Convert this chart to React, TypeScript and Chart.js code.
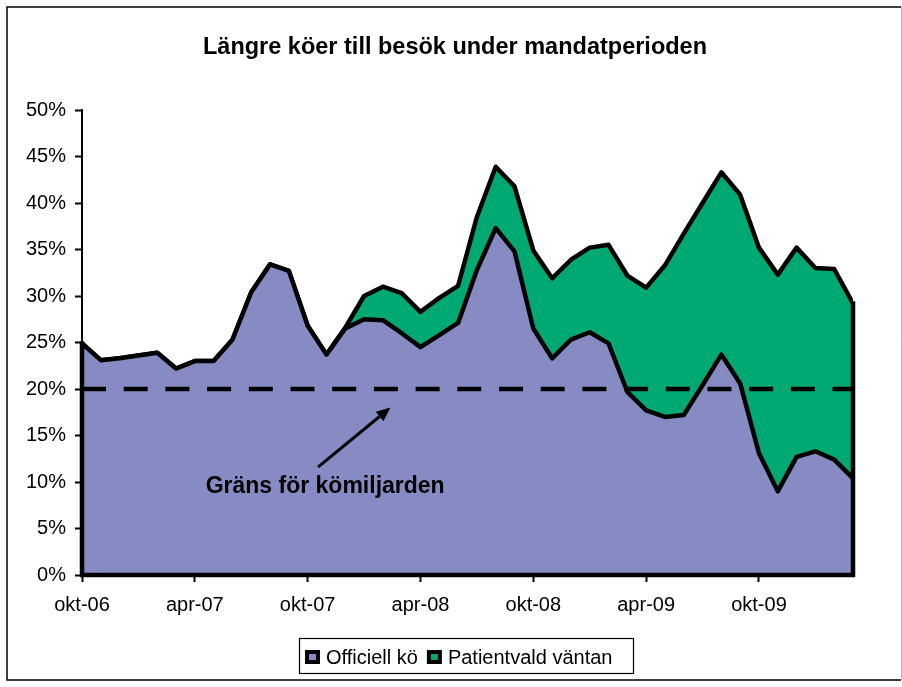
import React, { useEffect, useRef } from "react";
import { Chart, registerables } from "chart.js";

Chart.register(...registerables);

const TITLE = "Längre köer till besök under mandatperioden";
const SERIES_NAMES = ["Officiell kö", "Patientvald väntan"];
const MONTHS = [
  "okt-06", "nov-06", "dec-06", "jan-07", "feb-07", "mar-07",
  "apr-07", "maj-07", "jun-07", "jul-07", "aug-07", "sep-07",
  "okt-07", "nov-07", "dec-07", "jan-08", "feb-08", "mar-08",
  "apr-08", "maj-08", "jun-08", "jul-08", "aug-08", "sep-08",
  "okt-08", "nov-08", "dec-08", "jan-09", "feb-09", "mar-09",
  "apr-09", "maj-09", "jun-09", "jul-09", "aug-09", "sep-09",
  "okt-09", "nov-09", "dec-09", "jan-10", "feb-10", "mar-10",
];
const OFFICIELL = [
  24.9, 23.1, 23.3, 23.6, 23.9, 22.2, 23.0, 23.0, 25.3, 30.4, 33.4, 32.7,
  26.8, 23.7, 26.5, 27.5, 27.4, 26.0, 24.5, 25.8, 27.1, 32.8, 37.3, 34.8,
  26.5, 23.3, 25.3, 26.1, 24.9, 19.7, 17.7, 17.0, 17.2, 20.4, 23.7, 20.6,
  13.1, 9.0, 12.7, 13.3, 12.4, 10.4,
];
const PATIENTVALD = [
  0, 0, 0, 0, 0, 0, 0, 0, 0, 0, 0, 0,
  0, 0, 0.1, 2.5, 3.6, 4.3, 3.8, 4.0, 4.0, 5.7, 6.6, 7.0,
  8.4, 8.6, 8.6, 9.1, 10.6, 12.5, 13.2, 16.3, 19.5, 19.6, 19.6, 20.3,
  22.1, 23.3, 22.5, 19.7, 20.5, 18.8,
];
const Y_MIN = 0;
const Y_MAX = 50;
const Y_STEP = 5;
const X_STEP = 6;
const THRESHOLD = 20;
const ANNOTATION_TEXT = "Gräns för kömiljarden";
const ANNOTATION_TEXT_POS = { x: 12.93, y: 8.8 };
const ARROW_FROM = { x: 12.55, y: 11.6 };
const ARROW_TO = { x: 16.4, y: 18.0 };

const PURPLE = "rgb(135,139,196)";
const GREEN = "rgb(0,168,115)";
const FONT = "'Liberation Sans', Arial, sans-serif";

const decorPlugin = {
  id: "decor",
  beforeDraw(chart: any) {
    const ctx = chart.ctx;
    ctx.save();
    ctx.fillStyle = "#fff";
    ctx.fillRect(0, 0, chart.width, chart.height);
    ctx.restore();
  },
  afterDatasetsDraw(chart: any) {
    const ctx = chart.ctx;
    const xs = chart.scales.x;
    const ys = chart.scales.y;
    const n = OFFICIELL.length;
    const x0 = xs.getPixelForValue(0);
    const xN = xs.getPixelForValue(n - 1);
    const yZero = ys.getPixelForValue(0);
    ctx.save();
    ctx.strokeStyle = "#000";
    ctx.lineWidth = 4.5;
    ctx.lineCap = "square";
    ctx.beginPath();
    ctx.moveTo(x0, ys.getPixelForValue(OFFICIELL[0]));
    ctx.lineTo(x0, yZero);
    ctx.lineTo(xN, yZero);
    ctx.lineTo(xN, ys.getPixelForValue(OFFICIELL[n - 1] + PATIENTVALD[n - 1]));
    ctx.stroke();
    const yt = ys.getPixelForValue(THRESHOLD);
    ctx.lineCap = "butt";
    ctx.lineWidth = 4.5;
    ctx.setLineDash([24, 17.7]);
    ctx.beginPath();
    ctx.moveTo(x0, yt);
    ctx.lineTo(xN, yt);
    ctx.stroke();
    ctx.setLineDash([]);
    const ax1 = xs.getPixelForValue(ARROW_FROM.x);
    const ay1 = ys.getPixelForValue(ARROW_FROM.y);
    const ax2 = xs.getPixelForValue(ARROW_TO.x);
    const ay2 = ys.getPixelForValue(ARROW_TO.y);
    const ang = Math.atan2(ay2 - ay1, ax2 - ax1);
    const headLen = 14;
    const headW = 6;
    const bx = ax2 - headLen * Math.cos(ang);
    const by = ay2 - headLen * Math.sin(ang);
    ctx.lineWidth = 3;
    ctx.beginPath();
    ctx.moveTo(ax1, ay1);
    ctx.lineTo(bx, by);
    ctx.stroke();
    ctx.fillStyle = "#000";
    ctx.beginPath();
    ctx.moveTo(ax2, ay2);
    ctx.lineTo(bx + headW * Math.sin(ang), by - headW * Math.cos(ang));
    ctx.lineTo(bx - headW * Math.sin(ang), by + headW * Math.cos(ang));
    ctx.closePath();
    ctx.fill();
    ctx.font = `bold 23px ${FONT}`;
    ctx.textAlign = "center";
    ctx.textBaseline = "alphabetic";
    ctx.fillText(
      ANNOTATION_TEXT,
      xs.getPixelForValue(ANNOTATION_TEXT_POS.x),
      ys.getPixelForValue(ANNOTATION_TEXT_POS.y)
    );
    ctx.restore();
  },
  afterDraw(chart: any) {
    const ctx = chart.ctx;
    ctx.save();
    ctx.strokeStyle = "#000";
    ctx.lineWidth = 1.5;
    ctx.beginPath();
    ctx.moveTo(901, 7);
    ctx.lineTo(7, 7);
    ctx.lineTo(7, 680);
    ctx.lineTo(901, 680);
    ctx.stroke();
    ctx.strokeStyle = "#bbb";
    ctx.lineWidth = 1;
    ctx.beginPath();
    ctx.moveTo(901.5, 7);
    ctx.lineTo(901.5, 680);
    ctx.stroke();
    ctx.fillStyle = "#000";
    ctx.font = `bold 23.5px ${FONT}`;
    ctx.textAlign = "center";
    ctx.textBaseline = "alphabetic";
    ctx.fillText(TITLE, 455, 54);
    const colors = [PURPLE, GREEN];
    ctx.font = `20px ${FONT}`;
    ctx.textAlign = "left";
    const boxL = 299, boxT = 638, boxH = 35, boxW = 334;
    let x = boxL + 6;
    const items: any[] = [];
    SERIES_NAMES.forEach((name, i) => {
      const w = ctx.measureText(name).width;
      items.push({ x, name, color: colors[i] });
      x += 15 + 6 + w + 9;
    });
    ctx.strokeStyle = "#000";
    ctx.lineWidth = 1.2;
    ctx.strokeRect(boxL + 0.5, boxT + 0.5, boxW, boxH);
    items.forEach((it) => {
      ctx.fillStyle = "#000";
      ctx.fillRect(it.x, 650, 15, 14);
      ctx.fillStyle = it.color;
      ctx.fillRect(it.x + 4, 654, 7, 6);
      ctx.fillStyle = "#000";
      ctx.fillText(it.name, it.x + 21, 664);
    });
    ctx.restore();
  },
};

export default function App() {
  const ref = useRef<HTMLCanvasElement>(null);
  useEffect(() => {
    if (!ref.current) return;
    const chart = new Chart(ref.current, {
      type: "line",
      data: {
        datasets: [
          {
            label: SERIES_NAMES[0],
            data: OFFICIELL.map((v, i) => ({ x: i, y: v })),
            backgroundColor: PURPLE,
            borderColor: "#000",
            borderWidth: 4.5,
            fill: "origin",
            pointRadius: 0,
            tension: 0,
            borderJoinStyle: "round",
          },
          {
            label: SERIES_NAMES[1],
            data: PATIENTVALD.map((v, i) => ({ x: i, y: v })),
            backgroundColor: GREEN,
            borderColor: "#000",
            borderWidth: 4.5,
            fill: "-1",
            pointRadius: 0,
            tension: 0,
            borderJoinStyle: "round",
          },
        ],
      },
      options: {
        responsive: false,
        animation: false,
        devicePixelRatio: 1,
        layout: { padding: { left: 0, right: 49, top: 110, bottom: 0 } },
        plugins: {
          legend: { display: false },
          title: { display: false },
          tooltip: { enabled: false },
        },
        scales: {
          x: {
            type: "linear",
            min: 0,
            max: MONTHS.length - 1,
            afterFit: (s: any) => { s.height = 112; },
            ticks: {
              stepSize: X_STEP,
              includeBounds: false,
              autoSkip: false,
              maxRotation: 0,
              padding: 11,
              color: "#000",
              font: { family: FONT, size: 20 },
              callback: (v: any) => MONTHS[v] ?? "",
            },
            grid: {
              drawOnChartArea: false,
              drawTicks: true,
              tickLength: 7,
              tickColor: "#000",
              tickWidth: 2,
            },
            border: { display: true, color: "#000", width: 2 },
          },
          y: {
            stacked: true,
            min: Y_MIN,
            max: Y_MAX,
            afterFit: (s: any) => { s.width = 82; },
            ticks: {
              stepSize: Y_STEP,
              padding: 9,
              color: "#000",
              font: { family: FONT, size: 20 },
              callback: (v: any) => `${v}%`,
            },
            grid: {
              drawOnChartArea: false,
              drawTicks: true,
              tickLength: 7,
              tickColor: "#000",
              tickWidth: 2,
            },
            border: { display: true, color: "#000", width: 2 },
          },
        },
      } as any,
      plugins: [decorPlugin],
    });
    return () => chart.destroy();
  }, []);
  return (
    <div style={{ position: "absolute", left: 0, top: 0, width: 902, height: 687 }}>
      <canvas ref={ref} width={902} height={687} style={{ display: "block" }} />
    </div>
  );
}
